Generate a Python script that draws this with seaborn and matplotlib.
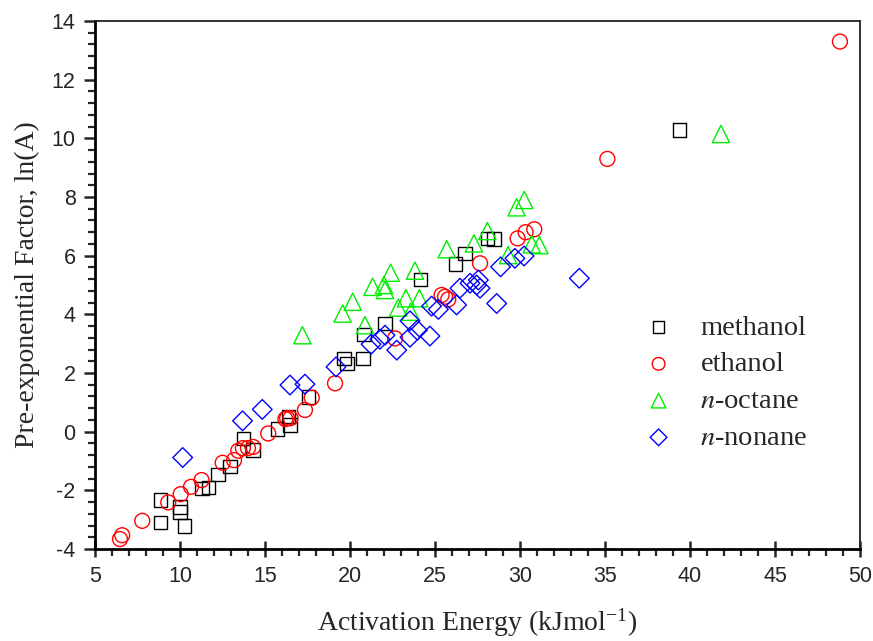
import pandas as pd
import matplotlib.pyplot as plt
import seaborn as sns
import numpy as np
from matplotlib.ticker import MultipleLocator

#%% data (activation energy kJ/mol, ln A)
methanol_x = [8.86, 10.0, 10.0, 8.86, 10.26, 11.28, 11.67, 12.25, 12.94, 13.73, 14.3, 15.74,
              16.37, 16.47, 17.55, 19.65, 19.84, 20.78, 20.82, 22.06, 24.16, 26.22, 26.76,
              28.08, 28.47, 39.37]
methanol_y = [-2.33, -2.56, -2.73, -3.09, -3.22, -1.93, -1.9, -1.46, -1.19, -0.23, -0.63, 0.09,
              0.51, 0.23, 1.19, 2.5, 2.33, 2.5, 3.32, 3.69, 5.19, 5.71, 6.08,
              6.59, 6.56, 10.28]

ethanol_x = [6.47, 6.6, 7.78, 9.31, 10.04, 10.65, 11.27, 12.51, 13.18, 13.43, 13.7, 14.0, 14.3,
             15.19, 16.2, 16.3, 16.5, 17.35, 17.75, 19.12, 22.65, 25.39, 25.59, 25.78, 27.65,
             29.86, 30.33, 30.84, 35.14, 48.82]
ethanol_y = [-3.66, -3.53, -3.04, -2.41, -2.13, -1.88, -1.65, -1.06, -0.97, -0.65, -0.56, -0.56, -0.52,
             -0.06, 0.43, 0.46, 0.46, 0.74, 1.16, 1.65, 3.18, 4.66, 4.6, 4.51, 5.74,
             6.59, 6.8, 6.9, 9.3, 13.3]

octane_x = [17.2, 19.57, 20.16, 20.88, 21.33, 22.0, 22.06, 22.39, 22.84, 23.29, 23.57, 23.82,
            24.08, 25.69, 27.29, 28.08, 29.3, 29.8, 30.25, 30.69, 31.14, 41.82]
octane_y = [3.29, 4.03, 4.43, 3.63, 4.94, 5.0, 4.83, 5.42, 4.23, 4.55, 4.09, 5.49,
            4.55, 6.22, 6.42, 6.84, 6.02, 7.65, 7.9, 6.39, 6.36, 10.15]

nonane_x = [10.16, 13.68, 14.84, 16.47, 17.35, 19.18, 21.24, 21.76, 22.06, 22.75, 23.53, 23.53,
            23.96, 24.7, 24.8, 25.2, 26.27, 26.47, 27.06, 27.45, 27.55, 27.65, 28.63, 28.86,
            29.7, 30.24, 33.49]
nonane_y = [-0.88, 0.37, 0.76, 1.59, 1.62, 2.21, 2.98, 3.15, 3.29, 2.78, 3.22, 3.78,
            3.46, 3.26, 4.28, 4.17, 4.32, 4.89, 5.06, 5.0, 5.17, 4.89, 4.37, 5.62,
            5.91, 5.99, 5.23]

#%%
sns.set_style('white')
plt.rcParams['font.family'] = ['Liberation Serif', 'DejaVu Serif']
plt.rcParams['mathtext.fontset'] = 'stix'
plt.rcParams['axes.unicode_minus'] = False

fig = plt.figure(figsize=(8.73, 6.41), dpi=100)
ax = fig.add_axes([0.1088, 0.1435, 0.8763, 0.8237])

series = [
    ('methanol', methanol_x, methanol_y, 's', '#000000', 95),
    ('ethanol', ethanol_x, ethanol_y, 'o', '#ff0000', 115),
    (r'$\it{n}$-octane', octane_x, octane_y, '^', '#00ee00', 155),
    (r'$\it{n}$-nonane', nonane_x, nonane_y, 'D', '#0000ff', 100),
]
for name, xs, ys, mk, col, s in series:
    df = pd.DataFrame({'E': xs, 'lnA': ys})
    sns.scatterplot(data=df, x='E', y='lnA', marker=mk, s=s, facecolor='none',
                    edgecolor=col, linewidth=1.0, label=name, ax=ax, zorder=3)

ax.set_xlim(5, 50)
ax.set_ylim(-4, 14)
ax.xaxis.set_major_locator(MultipleLocator(5))
ax.xaxis.set_minor_locator(MultipleLocator(1))
ax.yaxis.set_major_locator(MultipleLocator(2))
ax.yaxis.set_minor_locator(MultipleLocator(0.4))

tick_font = ['Liberation Sans Narrow', 'Liberation Sans', 'DejaVu Sans']
ax.tick_params(axis='x', which='major', direction='inout', length=12, width=1.8, bottom=True)
ax.tick_params(axis='x', which='minor', direction='out', length=5, width=1.6, bottom=True)
ax.tick_params(axis='y', which='major', direction='out', length=8, width=1.8, left=True)
ax.tick_params(axis='y', which='minor', direction='out', length=5, width=1.6, left=True)
ax.tick_params(axis='both', which='major', labelsize=15.5, pad=6)
for lab in ax.get_xticklabels() + ax.get_yticklabels():
    lab.set_family(tick_font)

for side in ['left', 'bottom']:
    ax.spines[side].set_linewidth(2.0)
    ax.spines[side].set_color('black')
for side in ['top', 'right']:
    ax.spines[side].set_linewidth(1.3)
    ax.spines[side].set_color('#222222')

ax.set_xlabel(r'Activation Energy (kJmol$^{\mathregular{-1}}$)', fontsize=20, labelpad=14)
ax.set_ylabel('Pre-exponential Factor, ln(A)', fontsize=20, labelpad=8)

leg = ax.legend(loc='center left', bbox_to_anchor=(0.666, 0.315), frameon=False,
                fontsize=20.5, handletextpad=0.47, labelspacing=0.38, markerscale=0.85)

fig.savefig('out.png', dpi=100)
